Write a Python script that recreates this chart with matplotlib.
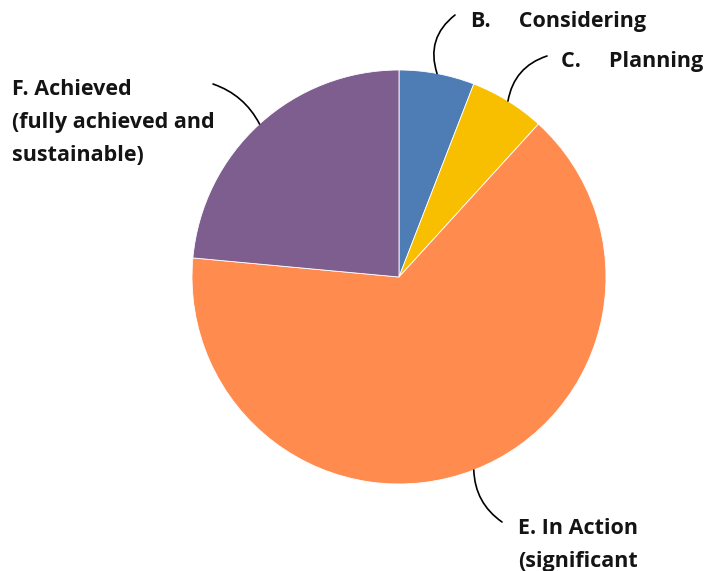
import numpy as np
import matplotlib
matplotlib.use("Agg")
from matplotlib import pyplot as plt

# Stage counts (1 : 1 : 11 : 4)
stages = ["B.     Considering", "C.     Planning",
          "E. In Action\n(significant",
          "F. Achieved\n(fully achieved and\nsustainable)"]
counts = [1, 1, 11, 4]
colors = ["#4E7DB5", "#F8BE00", "#FF8C4E", "#7D5E8E"]

# label top-left (figure pixels from top-left) and leader end points
label_pos = [(471, 11), (561, 51), (518, 518), (12, 79)]
leader_end = [(455, 15), (547, 56), (502, 522), (213, 84)]
leader_rad = [0.35, 0.3, -0.25, -0.2]

W, H = 712, 571
CX, CY, R = 399, 277, 207

plt.rcParams["font.family"] = ["Open Sans", "DejaVu Sans"]


def main() -> None:
    fig = plt.figure(figsize=(W / 100, H / 100), dpi=100)
    ax = fig.add_axes([(CX - R) / W, (H - CY - R) / H, 2 * R / W, 2 * R / H])
    wedges, _ = ax.pie(counts, colors=colors, startangle=90, counterclock=False,
                       radius=1, wedgeprops=dict(linewidth=0.6, edgecolor="white"))
    ax.set_xlim(-1, 1)
    ax.set_ylim(-1, 1)
    ax.set_aspect("equal")
    ax.axis("off")

    for w, lab, (tx, ty), (ex, ey), rad in zip(wedges, stages, label_pos, leader_end, leader_rad):
        mid = np.deg2rad((w.theta1 + w.theta2) / 2)
        xy = (np.cos(mid), np.sin(mid))
        ax.annotate("", xy=xy, xycoords="data",
                    xytext=(ex, H - ey), textcoords="figure pixels",
                    arrowprops=dict(arrowstyle="-", color="black", lw=1.2,
                                    shrinkA=0, shrinkB=0,
                                    connectionstyle=f"arc3,rad={rad}"))
        fig.text(tx / W, 1 - ty / H, lab, ha="left", va="top",
                 fontsize=15.5, fontweight="bold", color="#141414",
                 linespacing=1.76)

    fig.savefig("out.png", dpi=100)


if __name__ == "__main__":
    main()
